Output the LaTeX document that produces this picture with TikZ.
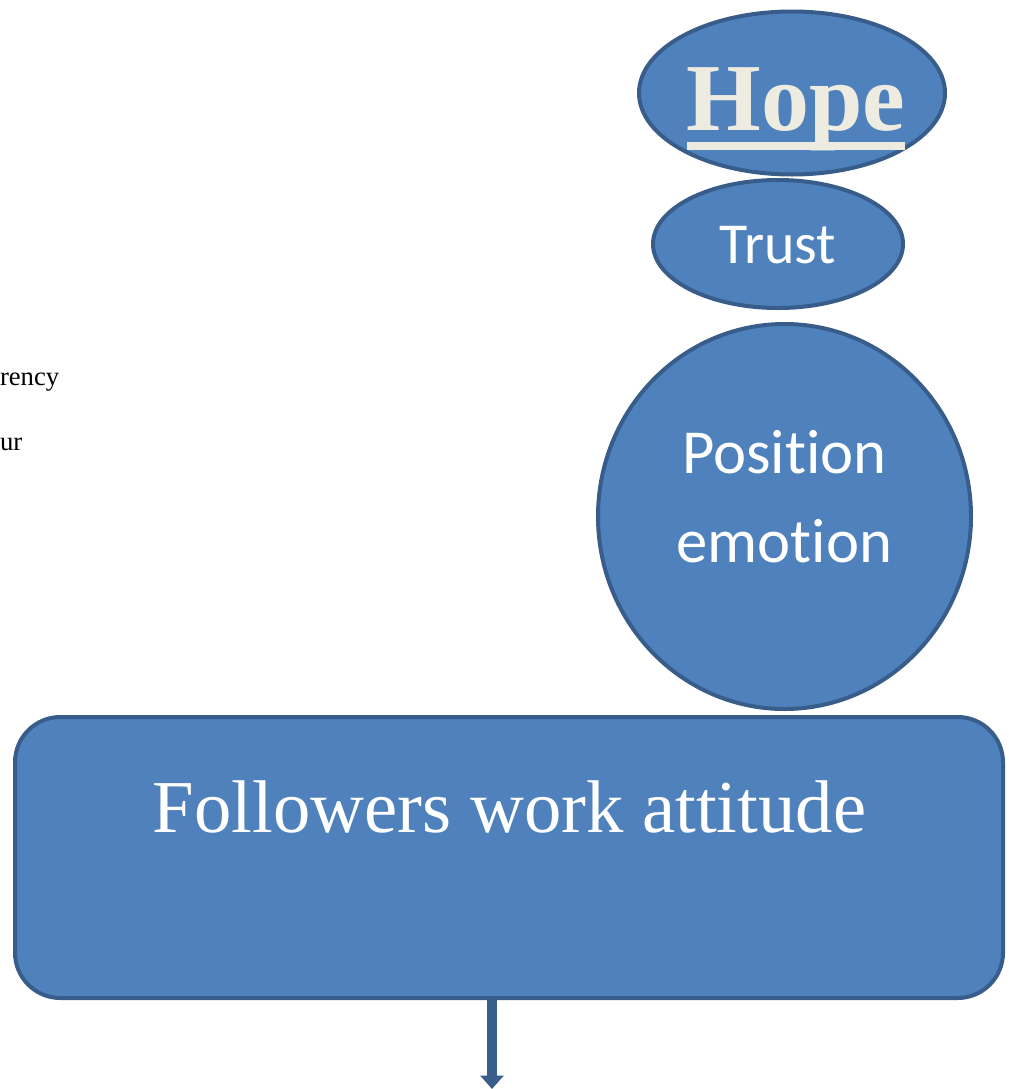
\documentclass[tikz,border=0pt]{standalone}
\usepackage{fontspec}
\setmainfont{Liberation Serif}
\newfontfamily\calibri[Ligatures=NoCommon]{Carlito}
\usepackage{xcolor}
\usetikzlibrary{shapes.geometric,arrows.meta,positioning}
\definecolor{shapefill}{HTML}{4F81BD}
\definecolor{shapeline}{HTML}{385D8A}
\definecolor{hopetext}{HTML}{EEECE1}
\newcommand\thickul[1]{\setbox0\hbox{#1}\rlap{\rule[-0.21em]{\wd0}{0.085em}}\box0}

\begin{document}
\begin{tikzpicture}[
  x=0.75pt, y=-0.75pt,
  every node/.style={inner sep=0pt, outer sep=0pt},
  blob/.style={ellipse, draw=shapeline, fill=shapefill, line width=3pt},
  card/.style={rectangle, rounded corners=34pt, draw=shapeline, fill=shapefill, line width=3pt},
  lbl/.style={anchor=base, text=white},
  side/.style={anchor=base west, font=\fontsize{20}{24}\selectfont},
  arr/.style={-{Triangle[width=17pt,length=10pt]}, draw=shapeline, line width=7.5pt}
]
\useasboundingbox (0,0) rectangle (1008,1089);

% shapes
\node[blob, minimum width=229.5pt, minimum height=122.25pt] (hope) at (792,93) {};
\node[blob, minimum width=187.5pt, minimum height=96pt] (trust) at (778,244) {};
\node[blob, minimum width=279.75pt, minimum height=288.75pt] (pos) at (784.5,516.5) {};
\node[card, minimum width=741pt, minimum height=210.75pt] (box) at (509,857.5) {};

% texts
\node[lbl, text=hopetext, font=\fontsize{72}{80}\selectfont\bfseries] (hopetxt) at (796,130) {\thickul{Hope}};
\node[lbl, font=\calibri\fontsize{43.5}{50}\selectfont] (trusttxt) at (778,263) {Trust};
\node[lbl, font=\calibri\fontsize{47}{56}\selectfont] (postxt) at (784.5,473) {Position};
\node[lbl, font=\calibri\fontsize{47}{56}\selectfont] (emotxt) at (784.5,562) {emotion};
\node[lbl, font=\fontsize{56}{64}\selectfont] (boxtxt) at (509.5,832) {Followers work attitude};

\node[side] (lefta) at (0,385) {rency};
\node[side] (leftb) at (0,450) {ur};

% arrow out of the box
\coordinate (arrend) at (492,1089);
\draw[arr] (box.south -| arrend) -- (arrend);
\end{tikzpicture}
\end{document}
